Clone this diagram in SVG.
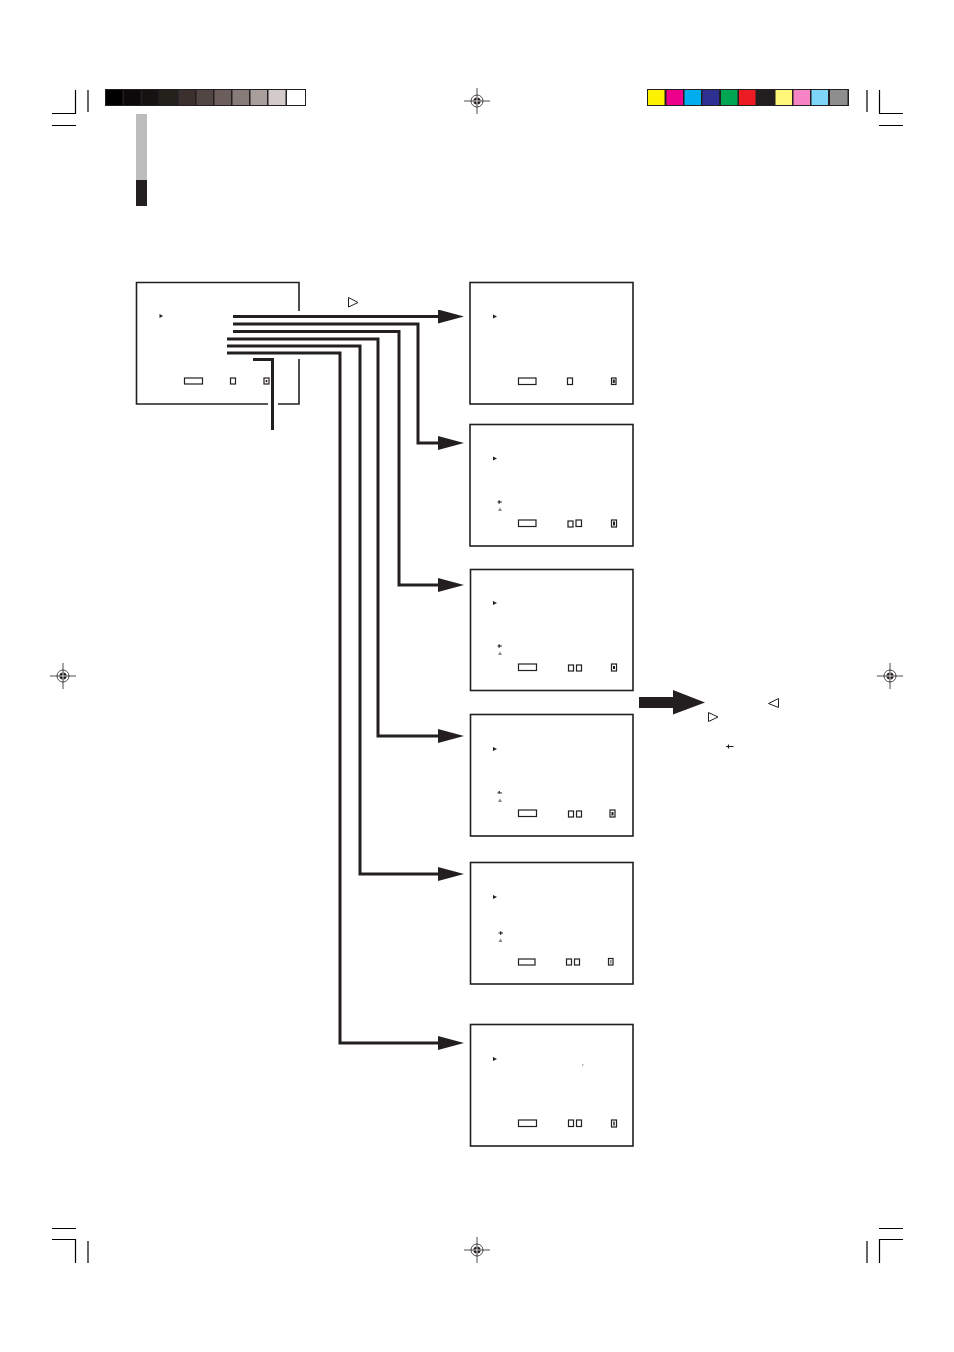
<svg xmlns="http://www.w3.org/2000/svg" width="954" height="1352" viewBox="0 0 954 1352">
<style>
.crop{stroke:#000;stroke-width:1.2;fill:none}
.box{fill:#fff;stroke:#231f20;stroke-width:1.6}
.conn{fill:none;stroke:#231f20;stroke-width:3;stroke-linejoin:miter}
.ico{fill:#fff;stroke:#231f20;stroke-width:1.2}
.tri{fill:#231f20}
.sw{stroke:#231f20;stroke-width:1.2}
.otl{fill:#fff;stroke:#231f20;stroke-width:1}
</style>
<defs>
<marker id="ah" markerUnits="userSpaceOnUse" markerWidth="26" markerHeight="14" viewBox="0 0 26 14" refX="2" refY="7" orient="auto">
<path d="M0,0 L26,7 L0,14 z" fill="#231f20"/>
</marker>
<g id="reg">
<line x1="-13" y1="0" x2="13" y2="0" stroke="#231f20" stroke-width="0.8"/>
<line x1="0" y1="-13" x2="0" y2="13" stroke="#231f20" stroke-width="0.8"/>
<circle r="6" fill="none" stroke="#231f20" stroke-width="0.8"/>
<circle r="3.6" fill="#231f20"/>
<line x1="-3.6" y1="0" x2="3.6" y2="0" stroke="#fff" stroke-width="0.8"/>
<line x1="0" y1="-3.6" x2="0" y2="3.6" stroke="#fff" stroke-width="0.8"/>
</g>
</defs>
<rect width="954" height="1352" fill="#fff"/>

<!-- crop marks -->
<g id="crops">
<path class="crop" d="M75.5,90 V113.5 H52 M52,125.5 H76 M88,90 V112"/>
<path class="crop" d="M879.5,90 V113.5 H903 M879,125.5 H903 M867,90 V112"/>
<path class="crop" d="M52,1228.5 H76 M52,1239.5 H75.5 V1263 M88,1241 V1263"/>
<path class="crop" d="M903,1228.5 H879 M903,1239.5 H879.5 V1263 M867,1241 V1263"/>
</g>

<!-- registration marks -->
<use href="#reg" x="477" y="101"/>
<use href="#reg" x="63" y="676"/>
<use href="#reg" x="890" y="676"/>
<use href="#reg" x="477" y="1250"/>

<!-- grey scale bar -->
<g id="grayscale">
<rect x="105" y="89" width="201" height="17" fill="#231f20"/>
<rect x="106" y="90" width="16.5" height="15" fill="#000000"/>
<rect x="124" y="90" width="16.5" height="15" fill="#0b0909"/>
<rect x="142" y="90" width="16.5" height="15" fill="#151212"/>
<rect x="160" y="90" width="16.5" height="15" fill="#24201c"/>
<rect x="178.5" y="90" width="16.5" height="15" fill="#3b302e"/>
<rect x="196.5" y="90" width="16.5" height="15" fill="#524644"/>
<rect x="214.5" y="90" width="16.5" height="15" fill="#6c5e5c"/>
<rect x="232.5" y="90" width="16.5" height="15" fill="#877b7a"/>
<rect x="250.5" y="90" width="16.5" height="15" fill="#a89e9c"/>
<rect x="268.5" y="90" width="17" height="15" fill="#d3cbca"/>
<rect x="287" y="90" width="18" height="15" fill="#ffffff"/>
</g>

<!-- colour bar -->
<g id="colorbar">
<rect x="647" y="89" width="202" height="17" fill="#231f20"/>
<rect x="648" y="90" width="16.5" height="15" fill="#fff200"/>
<rect x="666.5" y="90" width="16.5" height="15" fill="#ec008c"/>
<rect x="684.5" y="90" width="16.5" height="15" fill="#00aeef"/>
<rect x="702.5" y="90" width="16.5" height="15" fill="#2e3192"/>
<rect x="721" y="90" width="16.5" height="15" fill="#00a651"/>
<rect x="739" y="90" width="16.5" height="15" fill="#ed1c24"/>
<rect x="757" y="90" width="16.5" height="15" fill="#231f20"/>
<rect x="775.5" y="90" width="16.5" height="15" fill="#fff77a"/>
<rect x="793.5" y="90" width="16.5" height="15" fill="#f785c6"/>
<rect x="811.5" y="90" width="16.5" height="15" fill="#7dd5f7"/>
<rect x="830" y="90" width="17.5" height="15" fill="#8f8e8e"/>
</g>

<!-- side tab -->
<rect x="136" y="114" width="11" height="66" fill="#bcbcbc"/>
<rect x="136" y="180" width="11" height="26" fill="#231f20"/>

<!-- main menu box -->
<g id="node-main">
<path d="M299,311 V282.5 H136.5 V404 H268 M278,404 H299 V359" fill="none" stroke="#231f20" stroke-width="1.6"/>
<path class="tri" d="M159.5,314 L163,316 L159.5,318 z"/>
<rect class="ico" x="184.5" y="378" width="18" height="6"/>
<rect class="ico" x="230.5" y="378" width="5" height="6"/>
<rect class="ico" x="264" y="378" width="5" height="6"/>
<rect x="265.7" y="380" width="1.6" height="2.2" fill="#231f20"/>
<path class="otl" d="M348.5,297.5 L358,302.5 L348.5,307 z"/>
</g>

<!-- sub menu boxes -->
<g id="node-1">
<rect class="box" x="470" y="282.5" width="163" height="121.5"/>
<path class="tri" d="M493,314.5 L497,316.5 L493,318.5 z"/>
<rect class="ico" x="518.5" y="378" width="17.5" height="6.5"/>
<rect class="ico" x="567.5" y="378" width="5" height="6.5"/>
<rect class="ico" x="611.5" y="378" width="4.5" height="6.5"/>
<rect x="612.8" y="379.5" width="2" height="3.6" fill="#231f20"/>
</g>

<g id="node-2">
<rect class="box" x="470" y="424.5" width="163" height="121.5"/>
<path class="tri" d="M493,456.5 L497,458.5 L493,460.5 z"/>
<path class="sw" d="M497.5,502 H502 M499.2,500.3 V503.7"/>
<path d="M498,511 L500,507.5 L502,511 z" fill="#888"/>
<rect class="ico" x="518.5" y="520" width="17.5" height="6.5"/>
<rect class="ico" x="568" y="521" width="5" height="6"/>
<rect class="ico" x="576" y="520" width="5.5" height="6.5"/>
<rect class="ico" x="611.5" y="520" width="5" height="7"/>
<rect x="613" y="521.5" width="2" height="4" fill="#231f20"/>
</g>

<g id="node-3">
<rect class="box" x="470.5" y="569.5" width="162.5" height="121"/>
<path class="tri" d="M493,601 L497,603 L493,605 z"/>
<path class="sw" d="M497.5,646 H502 M499.2,644.3 V647.7"/>
<path d="M498,655 L500,651.5 L502,655 z" fill="#888"/>
<rect class="ico" x="518.5" y="664" width="18" height="6.5"/>
<rect class="ico" x="568.5" y="665" width="5" height="6"/>
<rect class="ico" x="576.5" y="665" width="5" height="6"/>
<rect class="ico" x="611.5" y="664" width="5" height="7"/>
<rect x="613" y="666" width="2" height="3" fill="#231f20"/>
</g>

<g id="node-4">
<rect class="box" x="470.5" y="714.5" width="162.5" height="121.5"/>
<path class="tri" d="M493,747 L497,749 L493,751 z"/>
<path class="sw" d="M497.5,793 H502 M499.2,791 V793"/>
<path d="M498,802 L500,798.5 L502,802 z" fill="#888"/>
<rect class="ico" x="518.5" y="810" width="18" height="6.5"/>
<rect class="ico" x="568.5" y="811" width="5" height="6"/>
<rect class="ico" x="576.5" y="811" width="5" height="6"/>
<rect class="ico" x="610" y="810" width="5" height="7"/>
<rect x="611.5" y="812" width="2" height="3.5" fill="#231f20"/>
</g>

<g id="node-5">
<rect class="box" x="470.5" y="862.5" width="162.5" height="121.5"/>
<path class="tri" d="M493,895 L497,897 L493,899 z"/>
<path class="sw" d="M498.5,933 H503 M500.7,931.3 V934.7"/>
<path d="M498.5,942 L500.5,938.5 L502.5,942 z" fill="#888"/>
<rect class="ico" x="518.5" y="959" width="16.5" height="6"/>
<rect class="ico" x="566.5" y="959" width="5" height="6"/>
<rect class="ico" x="574.5" y="959" width="5" height="6"/>
<rect class="ico" x="608.5" y="958.5" width="4.5" height="6.5"/>
<rect x="610" y="960" width="1.6" height="3.6" fill="#888"/>
</g>

<g id="node-6">
<rect class="box" x="470.5" y="1024.5" width="162.5" height="121.5"/>
<path class="tri" d="M493,1057 L497,1059 L493,1061 z"/>
<rect x="582" y="1064.5" width="1.5" height="1" fill="#777"/>
<rect class="ico" x="518.5" y="1120" width="18" height="6.5"/>
<rect class="ico" x="568.5" y="1120" width="5" height="6.5"/>
<rect class="ico" x="576.5" y="1120" width="5" height="6.5"/>
<rect class="ico" x="611.5" y="1120" width="5" height="7"/>
<rect x="613" y="1121.5" width="2" height="4" fill="#666"/>
</g>

<!-- connectors -->
<g id="connectors">
<path class="conn" d="M233,316.5 H440" marker-end="url(#ah)"/>
<path class="conn" d="M233,324 H418 V443 H440" marker-end="url(#ah)"/>
<path class="conn" d="M233,331.5 H399 V585 H440" marker-end="url(#ah)"/>
<path class="conn" d="M227,339 H378 V736 H440" marker-end="url(#ah)"/>
<path class="conn" d="M227,346 H360 V874 H440" marker-end="url(#ah)"/>
<path class="conn" d="M227,353 H340 V1043 H440" marker-end="url(#ah)"/>
<path class="conn" d="M253,359.5 H272.5 V430"/>
</g>

<!-- big arrow and notes -->
<g id="note">
<path d="M639,697 H673 V690 L705,702.5 L673,714.5 V708 H639 z" fill="#231f20"/>
<path class="otl" d="M778.5,698.5 L768.5,703.5 L778.5,707.5 z"/>
<path class="otl" d="M708.5,712.5 L718,717 L708.5,721.5 z"/>
<path class="sw" d="M726,746.5 H733.5 M728.5,744.5 V748.5"/>
</g>
</svg>
